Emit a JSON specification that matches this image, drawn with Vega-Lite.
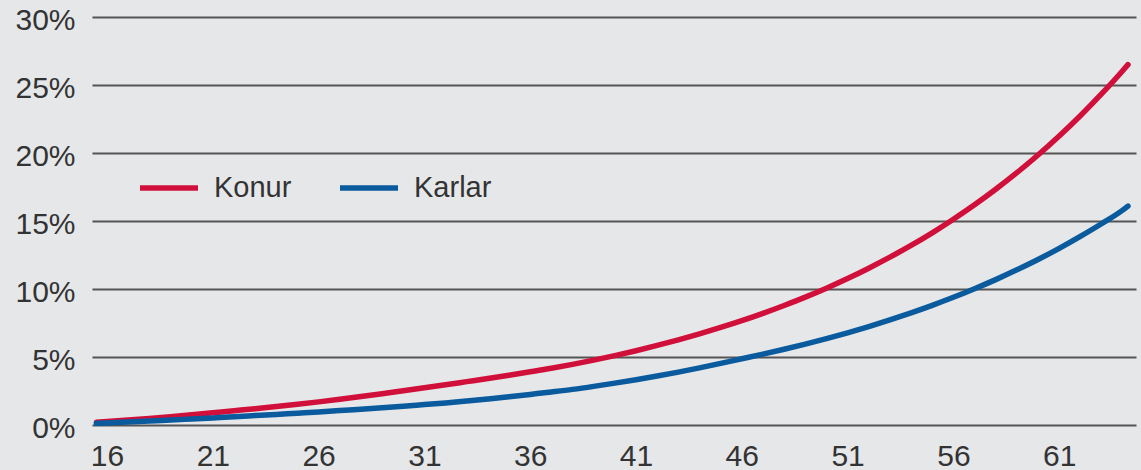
{
  "$schema": "https://vega.github.io/schema/vega-lite/v6.json",
  "width": 1044,
  "height": 408,
  "autosize": "none",
  "padding": {"left": 92, "top": 17, "right": 5, "bottom": 45},
  "background": "#e6e7e9",
  "config": {
    "view": {"stroke": null},
    "font": "Liberation Sans",
    "axis": {"labelFont": "Liberation Sans", "labelColor": "#333333", "labelFontSize": 30}
  },
  "data": {
    "values": [
      {"age": 15.5, "Konur": 0.2, "Karlar": 0.12},
      {"age": 16, "Konur": 0.25, "Karlar": 0.15},
      {"age": 17, "Konur": 0.36, "Karlar": 0.22},
      {"age": 18, "Konur": 0.48, "Karlar": 0.29},
      {"age": 19, "Konur": 0.61, "Karlar": 0.36},
      {"age": 20, "Konur": 0.75, "Karlar": 0.44},
      {"age": 21, "Konur": 0.9, "Karlar": 0.52},
      {"age": 22, "Konur": 1.05, "Karlar": 0.6},
      {"age": 23, "Konur": 1.2, "Karlar": 0.69},
      {"age": 24, "Konur": 1.36, "Karlar": 0.78},
      {"age": 25, "Konur": 1.52, "Karlar": 0.87},
      {"age": 26, "Konur": 1.7, "Karlar": 0.96},
      {"age": 27, "Konur": 1.89, "Karlar": 1.06},
      {"age": 28, "Konur": 2.09, "Karlar": 1.16},
      {"age": 29, "Konur": 2.3, "Karlar": 1.27},
      {"age": 30, "Konur": 2.52, "Karlar": 1.38},
      {"age": 31, "Konur": 2.74, "Karlar": 1.5},
      {"age": 32, "Konur": 2.96, "Karlar": 1.62},
      {"age": 33, "Konur": 3.19, "Karlar": 1.76},
      {"age": 34, "Konur": 3.42, "Karlar": 1.91},
      {"age": 35, "Konur": 3.66, "Karlar": 2.07},
      {"age": 36, "Konur": 3.91, "Karlar": 2.25},
      {"age": 37, "Konur": 4.17, "Karlar": 2.43},
      {"age": 38, "Konur": 4.46, "Karlar": 2.62},
      {"age": 39, "Konur": 4.77, "Karlar": 2.84},
      {"age": 40, "Konur": 5.1, "Karlar": 3.08},
      {"age": 41, "Konur": 5.46, "Karlar": 3.33},
      {"age": 42, "Konur": 5.85, "Karlar": 3.6},
      {"age": 43, "Konur": 6.26, "Karlar": 3.89},
      {"age": 44, "Konur": 6.7, "Karlar": 4.2},
      {"age": 45, "Konur": 7.17, "Karlar": 4.53},
      {"age": 46, "Konur": 7.67, "Karlar": 4.87},
      {"age": 47, "Konur": 8.21, "Karlar": 5.21},
      {"age": 48, "Konur": 8.79, "Karlar": 5.57},
      {"age": 49, "Konur": 9.4, "Karlar": 5.95},
      {"age": 50, "Konur": 10.06, "Karlar": 6.35},
      {"age": 51, "Konur": 10.77, "Karlar": 6.78},
      {"age": 52, "Konur": 11.53, "Karlar": 7.24},
      {"age": 53, "Konur": 12.34, "Karlar": 7.73},
      {"age": 54, "Konur": 13.2, "Karlar": 8.25},
      {"age": 55, "Konur": 14.13, "Karlar": 8.8},
      {"age": 56, "Konur": 15.13, "Karlar": 9.39},
      {"age": 57, "Konur": 16.19, "Karlar": 10.02},
      {"age": 58, "Konur": 17.33, "Karlar": 10.69},
      {"age": 59, "Konur": 18.55, "Karlar": 11.41},
      {"age": 60, "Konur": 19.85, "Karlar": 12.17},
      {"age": 61, "Konur": 21.25, "Karlar": 12.99},
      {"age": 62, "Konur": 22.74, "Karlar": 13.87},
      {"age": 63, "Konur": 24.34, "Karlar": 14.8},
      {"age": 64, "Konur": 26.05, "Karlar": 15.8},
      {"age": 64.25, "Konur": 26.5, "Karlar": 16.1}
    ]
  },
  "transform": [{"fold": ["Konur", "Karlar"], "as": ["kyn", "pct"]}],
  "mark": {"type": "line", "strokeWidth": 5.5, "strokeCap": "round", "interpolate": "monotone"},
  "encoding": {
    "x": {
      "field": "age",
      "type": "quantitative",
      "scale": {"domain": [15.29, 64.63], "nice": false, "zero": false},
      "axis": {
        "title": null,
        "values": [16, 21, 26, 31, 36, 41, 46, 51, 56, 61],
        "grid": false,
        "ticks": false,
        "domain": false,
        "labelPadding": 16,
        "labelFlush": false
      }
    },
    "y": {
      "field": "pct",
      "type": "quantitative",
      "scale": {"domain": [0, 30], "nice": false},
      "axis": {
        "title": null,
        "values": [0, 5, 10, 15, 20, 25, 30],
        "labelExpr": "datum.value + '%'",
        "grid": true,
        "gridColor": "#555555",
        "gridWidth": 2.2,
        "ticks": false,
        "domain": false,
        "labelPadding": 17,
        "labelOffset": 3,
        "labelFlush": false
      }
    },
    "color": {
      "field": "kyn",
      "type": "nominal",
      "sort": ["Konur", "Karlar"],
      "scale": {"domain": ["Konur", "Karlar"], "range": ["#d0103a", "#0a5a9e"]},
      "legend": {
        "title": null,
        "orient": "none",
        "legendX": 45,
        "legendY": 139,
        "direction": "horizontal",
        "symbolType": "stroke",
        "symbolSize": 3364,
        "symbolStrokeWidth": 5.5,
        "labelFont": "Liberation Sans",
        "labelFontSize": 29,
        "labelColor": "#333333",
        "labelOffset": 13,
        "columnPadding": 37
      }
    }
  }
}
